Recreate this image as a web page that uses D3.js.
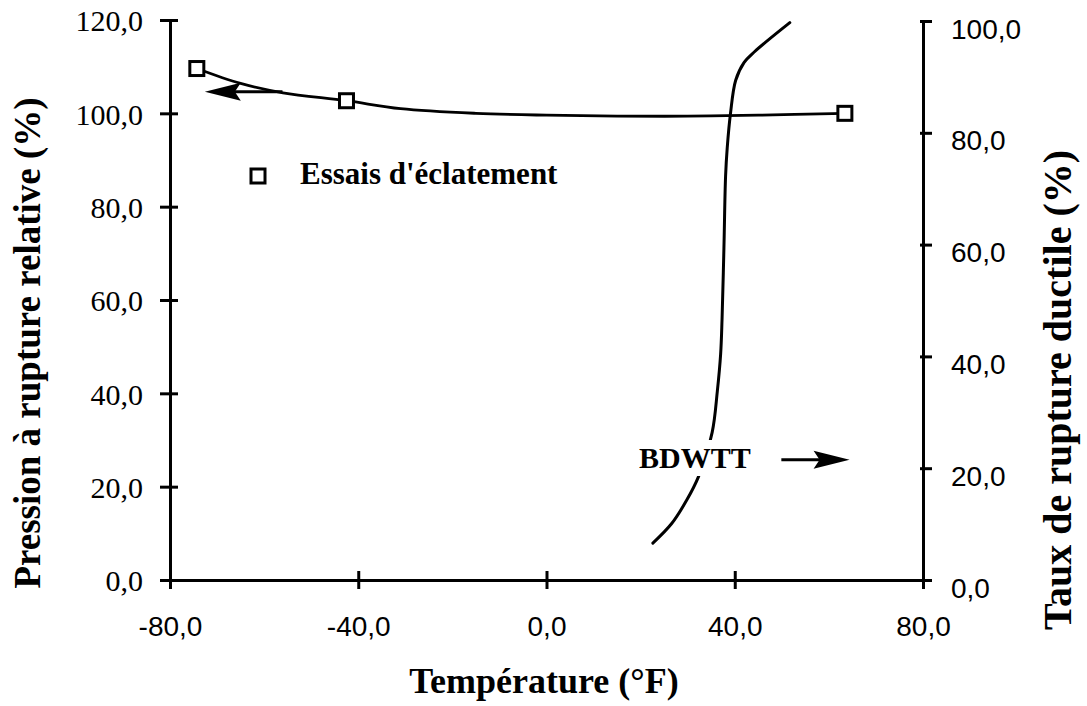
<!DOCTYPE html>
<html><head><meta charset="utf-8">
<script src="https://cdn.jsdelivr.net/npm/d3@7"></script>
<style>body{margin:0;background:#fff}</style>
</head><body><svg id="chart" width="1087" height="706"></svg>
<script>
// Axis ticks
const xTicks = [-80, -40, 0, 40, 80];
const leftTicks = [0, 20, 40, 60, 80, 100, 120];
const rightTicks = [0, 20, 40, 60, 80, 100];

// Burst tests: relative rupture pressure (%) vs temperature (°F)
const burstTemps = [-74.3, -42.5, 63.4];
const burstPressure = [109.6, 102.7, 100.0];

// Smoothed trend through the burst tests
const fitTemps = [-74.3, -65, -56, -42.5, -31, -15, 0, 15, 30, 45, 63.4];
const fitPressure = [109.6, 106.4, 104.4, 102.7, 101.0, 100.0, 99.6, 99.4, 99.4, 99.6, 100.0];

// BDWTT transition curve: ductile fracture share (%) vs temperature (°F)
const bdwttTemps = [22.6, 26.6, 29.8, 32.3, 35.2, 36.3, 37.0, 37.3, 37.7, 38.05, 38.4, 39.1, 40.2, 42.0, 44.2, 51.7];
const bdwttDuctile = [6.6, 10.1, 14.3, 18.5, 26.4, 33.8, 40.4, 46.6, 59.4, 72.2, 77.3, 83.5, 89.4, 92.6, 94.5, 99.7];

const svg = d3.select("#chart");
const serif = "'Liberation Serif', 'Times New Roman', serif";
const sans = "'Liberation Sans', Arial, sans-serif";
const fmt = d => d.toFixed(1).replace(".", ",");

const x = d3.scaleLinear().domain([-80, 80]).range([170, 923]);
const yL = d3.scaleLinear().domain([0, 120]).range([580, 20]);
const yR = d3.scaleLinear().domain([0, 100]).range([580, 21]);

function styleAxis(g, font, size) {
  g.select(".domain").attr("stroke-width", 3).attr("stroke", "#000");
  g.selectAll(".tick line").attr("stroke-width", 3).attr("stroke", "#000");
  g.selectAll(".tick text").attr("font-family", font).attr("font-size", size).attr("fill", "#000");
}

// Left axis
const gL = svg.append("g").attr("transform", `translate(${x(-80)},0)`)
  .call(d3.axisLeft(yL).tickValues(leftTicks).tickFormat(fmt).tickSizeOuter(0).tickSizeInner(10).tickPadding(0));
styleAxis(gL, serif, 30);
gL.selectAll(".tick line").attr("x1", -10).attr("x2", 8);
gL.selectAll(".tick text").attr("x", -27).attr("dy", "0.36em");

// Bottom axis
const gB = svg.append("g").attr("transform", `translate(0,${yL(0)})`)
  .call(d3.axisBottom(x).tickValues(xTicks).tickFormat(fmt).tickSizeOuter(0).tickSizeInner(9).tickPadding(0));
styleAxis(gB, sans, 28);
gB.selectAll(".tick line").attr("y1", -9).attr("y2", 9);
gB.selectAll(".tick text").attr("y", 56).attr("dy", 0);

// Right axis
const gR = svg.append("g").attr("transform", `translate(${x(80)},0)`)
  .call(d3.axisRight(yR).tickValues(rightTicks).tickFormat(fmt).tickSizeOuter(0).tickSizeInner(9).tickPadding(0));
styleAxis(gR, sans, 28);
gR.selectAll(".tick line").attr("x1", -3).attr("x2", 9);
gR.selectAll(".tick text").attr("x", 28).attr("dy", 17);

// Pressure trend line
const pressureLine = d3.line().x(d => x(d[0])).y(d => yL(d[1])).curve(d3.curveCatmullRom.alpha(0.5));
svg.append("path")
  .datum(fitTemps.map((t, i) => [t, fitPressure[i]]))
  .attr("d", pressureLine)
  .attr("fill", "none").attr("stroke", "#000").attr("stroke-width", 2.8);

// BDWTT curve
const bdwttLine = d3.line().x(d => x(d[0])).y(d => yR(d[1])).curve(d3.curveCatmullRom.alpha(0.5));
svg.append("path")
  .datum(bdwttTemps.map((t, i) => [t, bdwttDuctile[i]]))
  .attr("d", bdwttLine)
  .attr("fill", "none").attr("stroke", "#000").attr("stroke-width", 3).attr("stroke-linecap", "round");

// Burst test markers
svg.append("g").selectAll("rect")
  .data(burstTemps.map((t, i) => [t, burstPressure[i]]))
  .join("rect")
  .attr("x", d => x(d[0]) - 7).attr("y", d => yL(d[1]) - 7)
  .attr("width", 14).attr("height", 14)
  .attr("fill", "#fff").attr("stroke", "#000").attr("stroke-width", 3);

// Arrows pointing to the axis each curve belongs to
function arrow(x0, y0, x1, y1) {
  const dir = Math.sign(x1 - x0);
  const headLen = 36, half = 9;
  svg.append("line")
    .attr("x1", x0).attr("y1", y0).attr("x2", x1 - dir * headLen * 0.8).attr("y2", y1)
    .attr("stroke", "#000").attr("stroke-width", 3);
  const bx = x1 - dir * headLen;
  svg.append("path")
    .attr("d", `M${x1},${y1} L${bx},${y1 - half} L${bx + dir * 6},${y1} L${bx},${y1 + half} Z`)
    .attr("fill", "#000");
}
arrow(x(-56.1), yL(104.6), x(-72.6), yL(104.6));

// BDWTT label (with white backing that breaks the curve)
svg.append("rect").attr("x", 636).attr("y", 440).attr("width", 120).attr("height", 36).attr("fill", "#fff");
svg.append("text").attr("x", 639).attr("y", 468)
  .attr("font-family", serif).attr("font-weight", "bold").attr("font-size", 30)
  .text("BDWTT");
arrow(x(49.9), yR(21.5), x(64.4), yR(21.5));

// Legend
svg.append("rect").attr("x", 251).attr("y", 169).attr("width", 14).attr("height", 14)
  .attr("fill", "#fff").attr("stroke", "#000").attr("stroke-width", 3);
svg.append("text").attr("x", 300).attr("y", 184)
  .attr("font-family", serif).attr("font-weight", "bold").attr("font-size", 31)
  .text("Essais d'éclatement");

// Axis titles
svg.append("text").attr("x", 544).attr("y", 693).attr("text-anchor", "middle")
  .attr("font-family", serif).attr("font-weight", "bold").attr("font-size", 36)
  .text("Température (°F)");
svg.append("text").attr("transform", "translate(40,343) rotate(-90)").attr("text-anchor", "middle")
  .attr("font-family", serif).attr("font-weight", "bold").attr("font-size", 37)
  .text("Pression à rupture relative (%)");
svg.append("text").attr("transform", "translate(1071,390) rotate(-90)").attr("text-anchor", "middle")
  .attr("font-family", serif).attr("font-weight", "bold").attr("font-size", 40)
  .text("Taux de rupture ductile (%)");
</script>
</body></html>
